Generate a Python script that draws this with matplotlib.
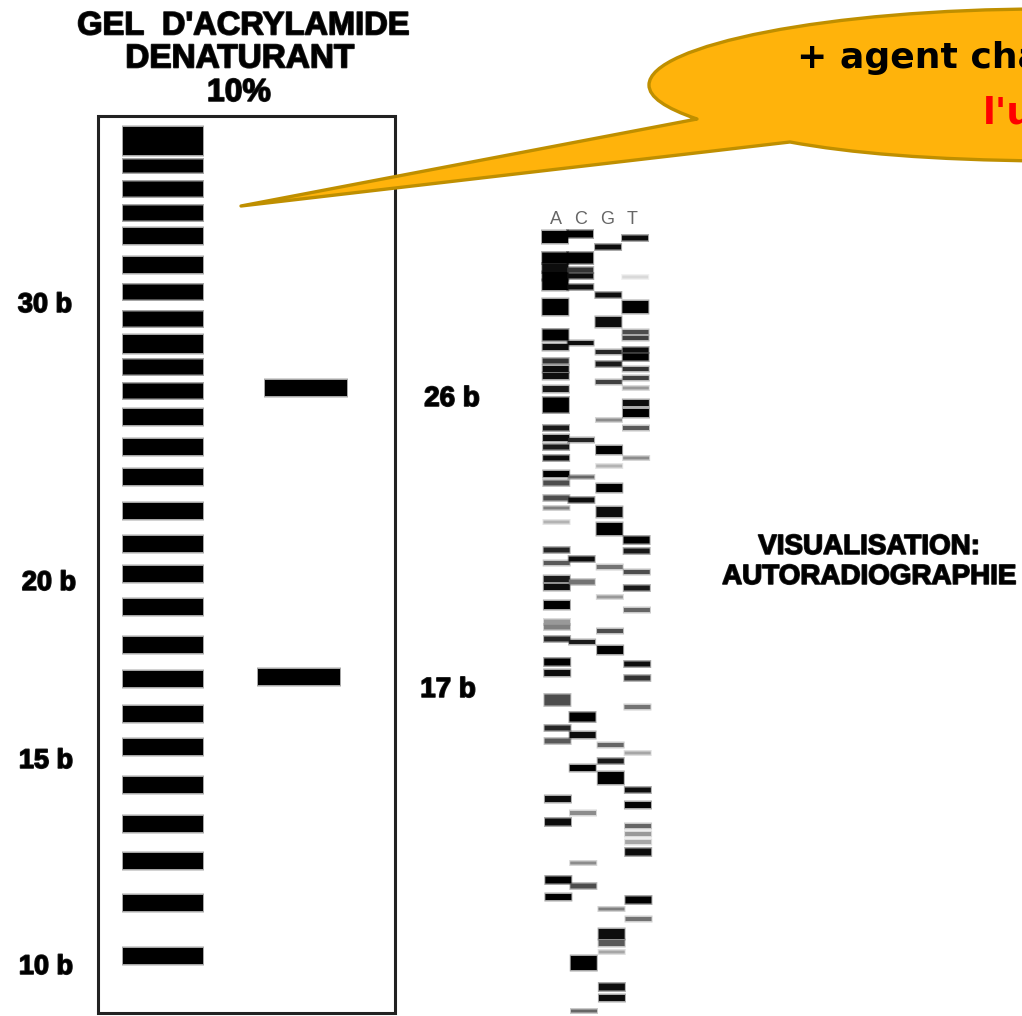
import matplotlib
matplotlib.use("Agg")
import matplotlib.pyplot as plt
import matplotlib.patheffects as pe
from matplotlib.path import Path
from matplotlib.patches import PathPatch, Rectangle

# ladder bands, y centre and thickness
ladder_y = [141, 166, 189, 213, 236, 265, 292, 319, 344, 367, 391,
            417, 447, 477, 511, 544, 574, 607, 645, 679,
            714, 747, 785, 824, 861, 903, 956]
ladder_h = [28, 13, 15, 15, 16, 16, 15, 15, 18, 15, 15,
            16, 16, 16, 16, 16, 16, 16, 16, 16,
            16, 16, 16, 16, 16, 16, 16]

# the two oligos in the middle lane
oligo_y = [388, 677]
oligo_x = [265, 258]
oligo_w = 82
oligo_h = 16
oligo_labels = ["26 b", "17 b"]

# size markers
marker_labels = ["30 b", "20 b", "15 b", "10 b"]
marker_y = [304, 582, 760, 966]
marker_x = [45, 49, 46, 46]

# sequencing gel, (y, thickness, grey) per lane
lane_a = [(237, 12, 0), (258, 11, 0), (268, 9, .05), (276, 8, 0), (285, 10, 0),
          (307, 16, 0), (335, 11, 0), (347, 6, .05), (361, 5, .2), (369, 6, .05),
          (376, 6, .05), (389, 6, .1), (405, 15, 0), (428, 5, .1), (438, 6, .05),
          (447, 5, .1), (458, 5, .05), (474, 6, 0), (483, 5, .3), (498, 5, .3),
          (508, 3, .5), (522, 3, .7), (550, 5, .15), (563, 4, .35), (579, 6, .1),
          (587, 6, .05), (605, 8, 0), (622, 5, .6), (627, 5, .5), (639, 5, .15),
          (662, 7, 0), (673, 6, .05), (700, 11, .3), (728, 5, .15), (741, 5, .35),
          (799, 6, .05), (822, 7, .05), (880, 7, 0), (897, 6, 0)]
lane_c = [(234, 7, 0), (258, 11, 0), (270, 5, .2), (276, 5, .05), (287, 5, .05),
          (343, 4, .05), (440, 4, .15), (477, 3, .4), (500, 5, .05), (559, 5, .05),
          (582, 5, .45), (642, 4, .1), (717, 9, 0), (735, 6, .05), (768, 6, 0),
          (813, 4, .55), (863, 3, .55), (886, 5, .3), (963, 14, 0), (1011, 3, .4)]
lane_g = [(247, 5, .05), (295, 5, .05), (322, 10, .05), (352, 4, .15), (364, 5, .1),
          (382, 4, .25), (420, 3, .55), (450, 8, 0), (466, 3, .7), (488, 8, 0),
          (512, 10, .05), (529, 12, 0), (567, 4, .45), (597, 3, .6), (631, 4, .3),
          (650, 8, 0), (745, 4, .4), (761, 5, .1), (778, 12, 0), (909, 3, .5),
          (934, 10, .05), (943, 6, .35), (952, 3, .65), (987, 7, .05), (998, 6, .05)]
lane_t = [(238, 5, .05), (277, 3, .85), (307, 12, 0), (332, 4, .3), (338, 4, .25),
          (350, 5, .05), (357, 7, 0), (369, 4, .2), (378, 4, .25), (388, 3, .6),
          (403, 6, .05), (413, 8, 0), (428, 4, .35), (458, 3, .55), (540, 7, 0),
          (551, 5, .1), (572, 4, .3), (588, 5, .1), (610, 4, .4), (664, 5, .05),
          (678, 5, .2), (707, 4, .45), (753, 3, .65), (790, 5, .05), (805, 6, 0),
          (826, 4, .4), (834, 4, .6), (842, 4, .65), (852, 7, .05), (900, 7, 0),
          (919, 4, .45)]
lane_left = [542, 567, 595, 622]
lane_letters = ["A", "C", "G", "T"]

INK = "#000000"
BOLD = ["Liberation Sans", "DejaVu Sans"]

fig = plt.figure(figsize=(10.22, 10.16), dpi=100)
ax = fig.add_axes([0, 0, 1, 1])
ax.set_xlim(0, 1022)
ax.set_ylim(1016, 0)
ax.axis("off")


def soft_bars(ys, hs, left, width, colors):
    # halo under the bar, the scan in the reference is blurry
    halo = ax.barh(ys, width + 2, height=[h + 3 for h in hs], left=left - 1,
                   color=colors, alpha=0.35, linewidth=0, zorder=2)
    core = ax.barh(ys, width, height=hs, left=left, color=colors, linewidth=0, zorder=3)
    for bar in list(halo) + list(core):
        bar.set_snap(False)


def bold_label(x, y, s, size=19, ha="center"):
    ax.text(x, y, s, fontsize=size, family=BOLD, fontweight="bold", ha=ha, va="center",
            color=INK, path_effects=[pe.withStroke(linewidth=1.2, foreground="#222222")])


# gel frame, its bottom edge sits at the very end of the image
ax.add_patch(Rectangle((98, 116), 297, 897, fill=False, ec="#222222", lw=2.2, zorder=1))
soft_bars(ladder_y, ladder_h, 123, 80, INK)
for y, x in zip(oligo_y, oligo_x):
    soft_bars([y], [oligo_h], x, oligo_w, INK)

# sequencing lanes, they drift a little to the right going down
for left, lane in zip(lane_left, [lane_a, lane_c, lane_g, lane_t]):
    for y, h, grey in lane:
        shift = (y - 232) / 780 * 4
        soft_bars([y], [h], left + shift, 26, str(grey))

for x, s in zip([556, 581, 607, 632], lane_letters):
    ax.text(x, 219, s, fontsize=13, family=BOLD, color="#666666", ha="center", va="center")

bold_label(243, 26, "GEL  D'ACRYLAMIDE", 23.5)
bold_label(240, 59, "DENATURANT", 24)
bold_label(239, 93, "10%", 23)
for x, y, s in zip(marker_x, marker_y, marker_labels):
    bold_label(x, y + 1, s, 19.5)
bold_label(452, 399, oligo_labels[0], 20)
bold_label(448, 690, oligo_labels[1], 20)
bold_label(869, 547, "VISUALISATION:", 20)
bold_label(869, 577, "AUTORADIOGRAPHIE", 20)

# speech bubble, runs off the right side of the image
bubble = Path(
    [(241, 206), (697, 119),
     (665, 108), (649, 97), (649, 85),
     (649, 45), (830, 9), (1045, 9),
     (1045, 161),
     (930, 160), (850, 153), (790, 142),
     (241, 206), (241, 206)],
    [Path.MOVETO, Path.LINETO,
     Path.CURVE4, Path.CURVE4, Path.CURVE4,
     Path.CURVE4, Path.CURVE4, Path.CURVE4,
     Path.LINETO,
     Path.CURVE4, Path.CURVE4, Path.CURVE4,
     Path.LINETO, Path.CLOSEPOLY])
ax.add_patch(PathPatch(bubble, fc="#FFB30B", ec="#BF8F00", lw=2.4, joinstyle="round", zorder=5))

ax.text(797, 58, "+ agent chaotropique", fontsize=26, fontweight="bold", color="black",
        family="DejaVu Sans", ha="left", va="center", zorder=6)
ax.text(983, 113, "l'urée", fontsize=27, fontweight="bold", color="#FF0000",
        family="DejaVu Sans", ha="left", va="center", zorder=6)

fig.savefig("out.png", dpi=100, facecolor="white")
